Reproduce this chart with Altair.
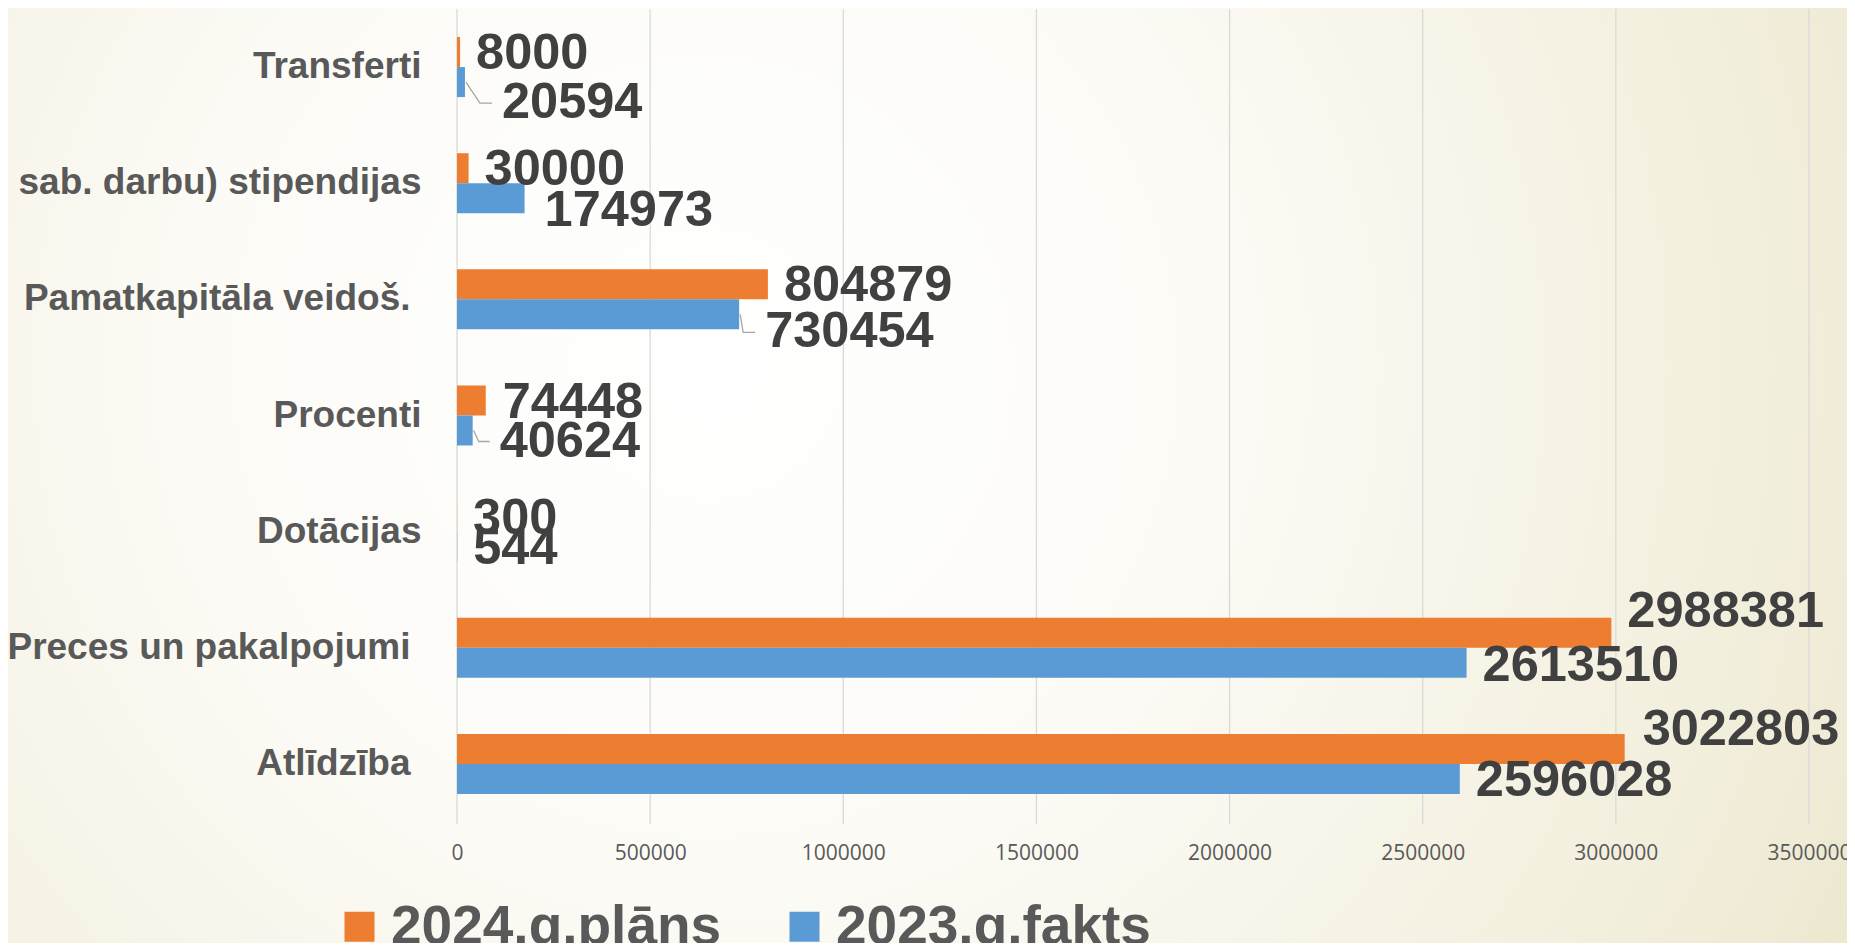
import altair as alt
import pandas as pd

# ---------------- data ----------------
categories = [
    "Transferti",
    "Sociālie pabalsti (t.sk. pagaidu sab. darbu) stipendijas",
    "Pamatkapitāla veidoš.",
    "Procenti",
    "Dotācijas",
    "Preces un pakalpojumi",
    "Atlīdzība",
]
series = ["2024.g.plāns", "2023.g.fakts"]
plan_2024 = [8000, 30000, 804879, 74448, 300, 2988381, 3022803]
fact_2023 = [20594, 174973, 730454, 40624, 544, 2613510, 2596028]
x_ticks = [0, 500000, 1000000, 1500000, 2000000, 2500000, 3000000, 3500000]

# ---------------- layout ----------------
W, H = 1352, 813
PAD = {"left": 449, "top": 1, "right": 38, "bottom": 121}
XMAX = 3500000
PX = XMAX / W           # data units per pixel
STEP = H / len(categories)
BAR_H = 30
ORANGE, BLUE = "#ED7D31", "#5B9BD5"
# labels that carry a trailing space in the original (sit a little further left)
spaced_labels = ["Pamatkapitāla veidoš.", "Preces un pakalpojumi", "Atlīdzība"]

# label nudges in pixels (extra dx, extra dy) for (category index, series index)
nudge = {
    (0, 0): (0, 2), (0, 1): (21, 21),
    (1, 0): (0, 2), (1, 1): (4, 13),
    (2, 0): (0, 2), (2, 1): (10, 18),
    (3, 0): (1, 2), (3, 1): (11, 11),
    (4, 0): (0, 2), (4, 1): (0, 2),
    (5, 0): (0, -21), (5, 1): (0, 3),
    (6, 0): (2, -19), (6, 1): (0, 2),
}
# leader lines: (category index, series index, diagonal run in px)
leaders = [(0, 1, 15), (2, 1, 4), (3, 1, 6)]


def bar_offset(s):
    return STEP / 2 + (-BAR_H / 2 if s == 0 else BAR_H / 2)


rows = []
for i, c in enumerate(categories):
    for s, vals in enumerate([plan_2024, fact_2023]):
        v = vals[i]
        off = bar_offset(s)
        dxe, dye = nudge[(i, s)]
        rows.append({
            "cat": c, "series": series[s], "value": v, "bar_off": off,
            "lab_x": v + dxe * PX, "lab_off": off + dye,
        })
df = pd.DataFrame(rows)

lrows = []
for k, (i, s, d1) in enumerate(leaders):
    v = [plan_2024, fact_2023][s][i]
    off = bar_offset(s)
    dxe, dye = nudge[(i, s)]
    lab_left = 16 + dxe
    pts = [(1, off), (d1, off + dye), (lab_left - 10, off + dye)]
    for j, (px, py) in enumerate(pts):
        lrows.append({"cat": categories[i], "lid": k, "ord": j,
                      "lx": v + px * PX, "ly": py})
ldf = pd.DataFrame(lrows)

test_expr = "indexof(" + str(spaced_labels) + ", datum.value) >= 0"

ycat = alt.Y(
    "cat:N", sort=categories,
    scale=alt.Scale(domain=categories, paddingInner=0, paddingOuter=0),
    axis=alt.Axis(title=None, labelFont="Liberation Sans", labelFontSize=37,
                  labelFontWeight="bold", labelColor="#595959",
                  labelPadding={"condition": {"test": test_expr, "value": 47},
                                "value": 36},
                  labelLimit=3000, domain=False, ticks=False, grid=False, zindex=1),
)
xscale = alt.Scale(domain=[0, XMAX], nice=False, zero=True)

bg = alt.Chart(pd.DataFrame({"a": [0]})).mark_rect(
    color=alt.RadialGradient(
        gradient="radial", x1=0.38, y1=0.44, r1=0, x2=0.38, y2=0.44, r2=0.85,
        stops=[
            alt.GradientStop(color="#FFFFFF", offset=0),
            alt.GradientStop(color="#FCFBF6", offset=0.32),
            alt.GradientStop(color="#F4F1E1", offset=0.62),
            alt.GradientStop(color="#EFEBD6", offset=0.76),
            alt.GradientStop(color="#EAE5C6", offset=0.88),
            alt.GradientStop(color="#E5DFBA", offset=1),
        ],
    )
).encode(
    x=alt.value(-PAD["left"]), x2=alt.value(W + PAD["right"]),
    y=alt.value(-PAD["top"]), y2=alt.value(H + PAD["bottom"]),
)

grid = alt.Chart(pd.DataFrame({"t": x_ticks})).mark_rule(
    color="#D9D9D9", strokeWidth=1.3
).encode(
    x=alt.X("t:Q", scale=xscale),
    y=alt.value(0), y2=alt.value(H + 2),
)

bars = alt.Chart(df).mark_bar(height=BAR_H).encode(
    x=alt.X("value:Q", scale=xscale,
            axis=alt.Axis(values=x_ticks, format="d", title=None, grid=False,
                          domain=False, ticks=False, labelFont="Open Sans",
                          labelFontSize=21, labelColor="#595959", labelPadding=20,
                          labelFlush=False, zindex=1)),
    y=ycat,
    yOffset=alt.YOffset("bar_off:Q", scale=None),
    color=alt.Color(
        "series:N", sort=series,
        scale=alt.Scale(domain=series, range=[ORANGE, BLUE]),
        legend=alt.Legend(
            title=None, orient="none", legendX=-125, legendY=890,
            direction="horizontal", symbolType="square", symbolSize=900,
            symbolStrokeWidth=0, symbolOpacity=1, labelFont="Liberation Sans",
            labelFontSize=55, labelFontWeight="bold", labelColor="#595959",
            labelLimit=1000, labelOffset=4, columnPadding=55, padding=0,
            zindex=1,
        ),
    ),
)

lines = alt.Chart(ldf).mark_line(color="#A6A6A6", strokeWidth=1.3).encode(
    x=alt.X("lx:Q", scale=xscale),
    y=ycat,
    yOffset=alt.YOffset("ly:Q", scale=None),
    detail="lid:N",
    order="ord:O",
)

labels = alt.Chart(df).mark_text(
    align="left", baseline="middle", dx=16, font="Liberation Sans",
    fontSize=50.5, fontWeight="bold", color="#404040",
).encode(
    x=alt.X("lab_x:Q", scale=xscale),
    y=ycat,
    yOffset=alt.YOffset("lab_off:Q", scale=None),
    text=alt.Text("value:Q", format="d"),
)

chart = alt.layer(bg, grid, bars, lines, labels).properties(
    width=W, height=H,
    autosize=alt.AutoSizeParams(type="none"),
    padding=PAD,
    background="#F6F4EA",
).configure_view(stroke=None)

chart.save("out.html", embed_options={"renderer": "svg", "actions": False})
